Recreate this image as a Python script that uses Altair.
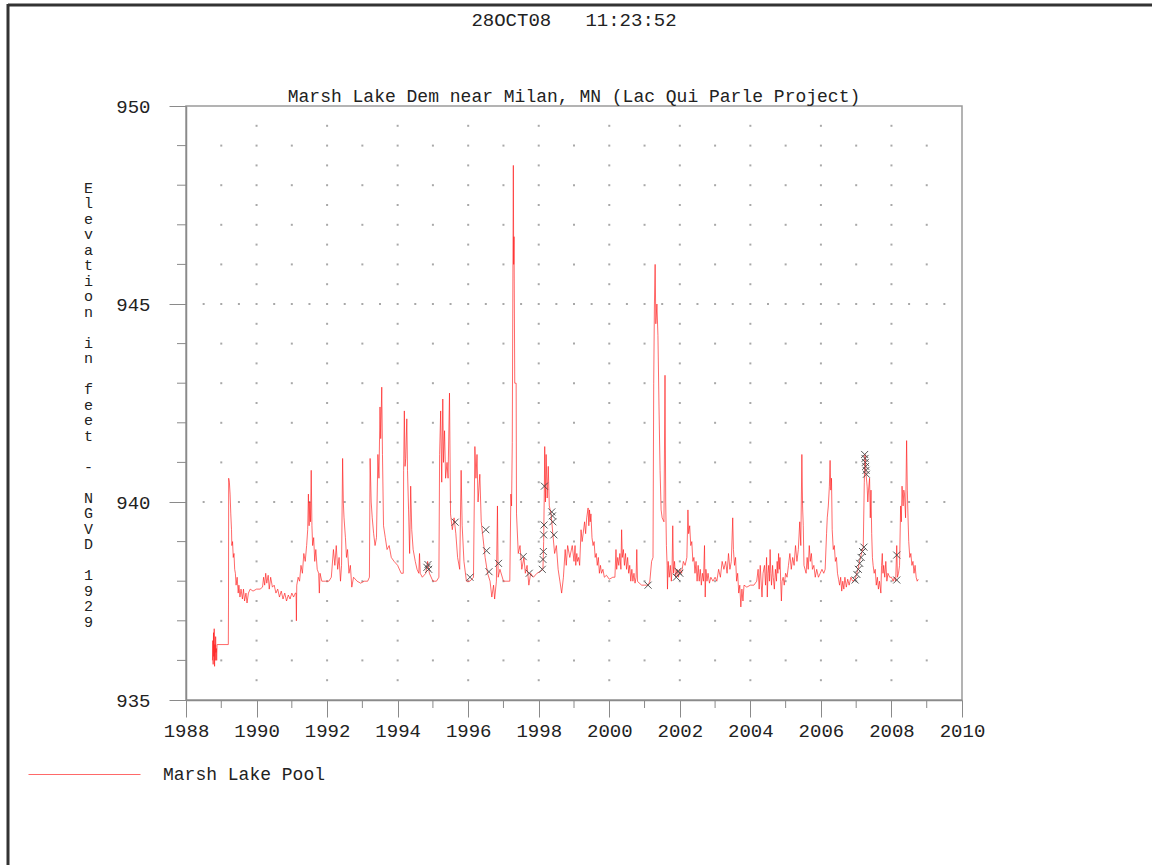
import altair as alt
import pandas as pd

# ---- pool elevation (decimal year, feet) ----
yr_1988_1993 = [
    1988.75, 1988.76, 1988.77, 1988.78, 1988.79, 1988.80, 1988.81, 1988.82, 1988.83, 1988.84,
    1988.85, 1988.86, 1988.87, 1988.88, 1988.90, 1989.20, 1989.205, 1989.21, 1989.23, 1989.25,
    1989.27, 1989.29, 1989.30, 1989.32, 1989.34, 1989.36, 1989.38, 1989.40, 1989.42, 1989.45,
    1989.48, 1989.50, 1989.53, 1989.56, 1989.60, 1989.63, 1989.66, 1989.70, 1989.73, 1989.77,
    1989.82, 1989.90, 1990.00, 1990.10, 1990.17, 1990.20, 1990.23, 1990.26, 1990.29, 1990.33,
    1990.36, 1990.40, 1990.45, 1990.50, 1990.55, 1990.60, 1990.65, 1990.70, 1990.75, 1990.80,
    1990.85, 1990.90, 1990.95, 1991.00, 1991.05, 1991.10, 1991.12, 1991.13, 1991.14, 1991.18,
    1991.22, 1991.26, 1991.30, 1991.34, 1991.38, 1991.42, 1991.45, 1991.47, 1991.49, 1991.51,
    1991.53, 1991.55, 1991.57, 1991.59, 1991.62, 1991.65, 1991.68, 1991.72, 1991.76, 1991.78,
    1991.80, 1991.85, 1991.95, 1992.05, 1992.12, 1992.18, 1992.22, 1992.26, 1992.30, 1992.34,
    1992.38, 1992.41, 1992.44, 1992.46, 1992.48, 1992.52, 1992.55, 1992.58, 1992.62, 1992.66,
    1992.70, 1992.75, 1992.85, 1992.95, 1993.05, 1993.15, 1993.20, 1993.22, 1993.25, 1993.28,
    1993.32, 1993.36, 1993.40, 1993.44, 1993.47, 1993.50, 1993.52, 1993.55, 1993.57, 1993.60,
]
ft_1988_1993 = [
    936.0, 936.5, 935.9, 936.7, 936.1, 936.8, 935.85, 936.4, 936.0, 936.6,
    936.2, 936.3, 936.0, 936.4, 936.4, 936.4, 937.4, 940.6, 940.5, 940.2,
    939.7, 939.3, 938.9, 939.0, 938.6, 938.7, 938.3, 938.2, 937.9, 938.1,
    937.7, 937.9, 937.6, 937.8, 937.55, 937.8, 937.5, 937.7, 937.45, 937.7,
    937.8, 937.75, 937.8, 937.8, 937.85, 938.1, 937.9, 938.2, 937.95, 938.15,
    937.8, 938.1, 937.85, 937.9, 937.7, 937.8, 937.6, 937.75, 937.55, 937.7,
    937.5, 937.65, 937.55, 937.7, 937.6, 937.7, 937.7, 937.0, 937.9, 938.1,
    938.0, 938.4, 938.2, 938.7, 938.5, 938.9, 939.3, 940.2, 939.4, 940.0,
    939.5, 940.8, 939.4, 938.9, 939.1, 938.5, 938.8, 938.3, 938.2, 937.7,
    938.2, 938.0, 938.0, 938.0, 938.1, 938.8, 938.4, 938.9, 938.3, 938.6,
    938.0, 938.4, 941.1, 940.0, 939.6, 939.1, 938.6, 938.8, 938.2, 938.4,
    937.85, 938.1, 938.0, 937.95, 938.0, 938.0, 938.1, 941.1, 940.0, 939.6,
    939.2, 938.9, 939.1, 941.2, 940.6, 942.4, 941.6, 942.9, 941.2, 939.4,
]
yr_1993_1998 = [
    1993.65, 1993.70, 1993.76, 1993.82, 1993.90, 1994.00, 1994.10, 1994.16, 1994.17, 1994.19,
    1994.21, 1994.23, 1994.26, 1994.28, 1994.31, 1994.34, 1994.37, 1994.40, 1994.44, 1994.50,
    1994.55, 1994.60, 1994.62, 1994.64, 1994.70, 1994.80, 1994.85, 1994.90, 1995.00, 1995.10,
    1995.17, 1995.19, 1995.22, 1995.25, 1995.28, 1995.30, 1995.33, 1995.36, 1995.40, 1995.43,
    1995.47, 1995.50, 1995.55, 1995.60, 1995.65, 1995.70, 1995.76, 1995.80, 1995.83, 1995.88,
    1995.95, 1996.05, 1996.15, 1996.19, 1996.22, 1996.25, 1996.28, 1996.33, 1996.37, 1996.42,
    1996.48, 1996.55, 1996.62, 1996.67, 1996.72, 1996.75, 1996.80, 1996.83, 1996.85, 1996.90,
    1997.00, 1997.10, 1997.18, 1997.21, 1997.23, 1997.25, 1997.28, 1997.29, 1997.30, 1997.32,
    1997.36, 1997.37, 1997.42, 1997.47, 1997.52, 1997.58, 1997.62, 1997.67, 1997.72, 1997.77,
    1997.85, 1997.95, 1998.05, 1998.12, 1998.14, 1998.16, 1998.17, 1998.19, 1998.21, 1998.24,
    1998.27, 1998.30, 1998.35, 1998.40, 1998.45, 1998.50, 1998.55, 1998.60, 1998.65, 1998.70,
    1998.75, 1998.78, 1998.82, 1998.88,
]
ft_1993_1998 = [
    939.1, 938.8, 938.9, 938.6, 938.5, 938.4, 938.2, 938.2, 940.8, 942.3,
    940.9, 941.1, 942.1, 940.8, 939.8, 938.7, 940.4, 939.3, 938.8, 938.5,
    938.3, 938.2, 938.7, 938.2, 938.1, 938.2, 938.5, 938.2, 938.0, 938.0,
    938.1, 941.2, 942.3, 940.5, 942.6, 941.0, 941.8, 940.6, 941.0, 940.6,
    942.75, 939.7, 939.3, 939.6, 939.2, 938.6, 938.3, 940.8, 939.4, 938.5,
    938.0, 938.0, 938.1, 941.4, 940.6, 941.2, 940.0, 940.7, 939.5, 939.1,
    938.6, 938.2, 938.0, 937.6, 937.9, 937.55, 938.0, 939.9, 938.1, 938.3,
    938.0, 938.0, 938.0, 940.2, 939.9, 941.5, 948.5, 946.0, 946.7, 943.0,
    943.0, 939.7, 938.7, 938.9, 938.3, 938.6, 938.2, 938.4, 937.9, 938.2,
    938.1, 938.2, 938.25, 938.3, 939.0, 940.4, 941.4, 940.0, 941.2, 940.1,
    940.9, 939.9, 939.7, 939.2, 938.7, 938.9, 938.3, 938.0, 937.7, 938.1,
    938.8, 938.4, 938.9, 938.6,
]
yr_1999_2008 = [
    1998.95, 1999.00, 1999.03, 1999.05, 1999.08, 1999.10, 1999.13, 1999.16, 1999.20, 1999.23,
    1999.26, 1999.30, 1999.33, 1999.36, 1999.40, 1999.42, 1999.44, 1999.46, 1999.48, 1999.51,
    1999.54, 1999.57, 1999.60, 1999.63, 1999.66, 1999.69, 1999.72, 1999.75, 1999.78, 1999.82,
    1999.86, 1999.92, 2000.00, 2000.10, 2000.16, 2000.19, 2000.21, 2000.24, 2000.27, 2000.30,
    2000.33, 2000.35, 2000.37, 2000.40, 2000.43, 2000.46, 2000.49, 2000.52, 2000.55, 2000.58,
    2000.61, 2000.64, 2000.67, 2000.70, 2000.73, 2000.76, 2000.78, 2000.80, 2000.85, 2000.92,
    2001.00, 2001.10, 2001.15, 2001.20, 2001.24, 2001.26, 2001.28, 2001.30, 2001.32, 2001.35,
    2001.38, 2001.41, 2001.44, 2001.47, 2001.50, 2001.55, 2001.58, 2001.60, 2001.62, 2001.64,
    2001.65, 2001.67, 2001.70, 2001.73, 2001.76, 2001.78, 2001.80, 2001.82, 2001.85, 2001.88,
    2001.92, 2001.96, 2002.00, 2002.05, 2002.10, 2002.15, 2002.20, 2002.23, 2002.25, 2002.28,
    2002.31, 2002.34, 2002.37, 2002.40, 2002.43, 2002.46, 2002.49, 2002.52, 2002.55, 2002.58,
    2002.61, 2002.64, 2002.67, 2002.70, 2002.72, 2002.74, 2002.77, 2002.80, 2002.84, 2002.88,
    2002.94, 2003.00, 2003.05, 2003.10, 2003.15, 2003.20, 2003.25, 2003.30, 2003.34, 2003.38,
    2003.42, 2003.46, 2003.50, 2003.52, 2003.55, 2003.58, 2003.61, 2003.64, 2003.67, 2003.70,
    2003.73, 2003.76, 2003.79, 2003.82, 2003.90, 2004.00, 2004.10, 2004.18, 2004.22, 2004.25,
    2004.28, 2004.31, 2004.33, 2004.36, 2004.40, 2004.43, 2004.46, 2004.48, 2004.50, 2004.52,
    2004.54, 2004.56, 2004.58, 2004.60, 2004.63, 2004.65, 2004.68, 2004.71, 2004.74, 2004.76,
    2004.78, 2004.80, 2004.82, 2004.84, 2004.86, 2004.88, 2004.90, 2004.93, 2004.96, 2005.00,
    2005.04, 2005.08, 2005.12, 2005.16, 2005.20, 2005.24, 2005.28, 2005.32, 2005.36, 2005.40,
    2005.43, 2005.46, 2005.48, 2005.50, 2005.52, 2005.55, 2005.58, 2005.61, 2005.64, 2005.67,
    2005.70, 2005.73, 2005.76, 2005.80, 2005.84, 2005.88, 2005.93, 2005.98, 2006.03, 2006.08,
    2006.12, 2006.16, 2006.18, 2006.21, 2006.24, 2006.26, 2006.28, 2006.30, 2006.32, 2006.35,
    2006.38, 2006.41, 2006.44, 2006.47, 2006.50, 2006.53, 2006.56, 2006.59, 2006.62, 2006.65,
    2006.68, 2006.72, 2006.76, 2006.80, 2006.85, 2006.90, 2006.97, 2007.05, 2007.12, 2007.20,
    2007.23, 2007.25, 2007.28, 2007.31, 2007.33, 2007.35, 2007.38, 2007.40, 2007.42, 2007.44,
    2007.46, 2007.48, 2007.51, 2007.54, 2007.57, 2007.60, 2007.63, 2007.66, 2007.70, 2007.72,
    2007.74, 2007.76, 2007.78, 2007.81, 2007.84, 2007.87, 2007.90, 2007.95, 2008.00, 2008.05,
    2008.08, 2008.12, 2008.15, 2008.17, 2008.20, 2008.23, 2008.26, 2008.28, 2008.30, 2008.33,
    2008.35, 2008.37, 2008.40, 2008.43, 2008.45, 2008.47, 2008.49, 2008.52, 2008.55, 2008.58,
    2008.61, 2008.64, 2008.67, 2008.70, 2008.73, 2008.76,
]
ft_1999_2008 = [
    938.9, 938.5, 938.9, 938.4, 938.7, 938.5, 938.6, 938.4, 939.3, 939.0,
    939.2, 939.5, 939.2, 939.6, 939.85, 939.4, 939.8, 939.5, 939.7, 939.1,
    938.9, 939.0, 938.6, 938.7, 938.4, 938.6, 938.2, 938.4, 938.2, 938.3,
    938.1, 938.15, 938.05, 938.1, 938.1, 938.8, 938.3, 938.6, 938.4, 938.7,
    938.3, 939.3, 938.6, 938.8, 938.4, 938.7, 938.3, 938.6, 938.2, 938.4,
    938.0, 938.3, 938.0, 938.2, 937.95, 938.1, 938.8, 938.0, 937.95, 937.9,
    937.9, 937.9, 938.0, 938.5, 938.6, 943.0, 945.0, 946.0, 944.5, 945.0,
    944.2, 942.4, 940.8, 939.8, 939.6, 939.5, 943.2, 940.0, 938.9, 938.4,
    937.8, 938.5, 938.1, 938.4, 938.0, 938.3, 939.4, 938.2, 938.5, 938.1,
    938.3, 938.1, 938.3, 938.2, 938.5, 938.4, 938.6, 939.8, 939.2, 939.4,
    938.9, 939.0, 938.5, 938.6, 938.2, 938.5, 938.0, 938.4, 938.0, 938.3,
    937.9, 938.2, 938.0, 938.9, 937.6, 938.3, 938.0, 938.2, 937.95, 938.1,
    938.0, 938.1, 938.0, 938.3, 938.1, 938.5, 938.3, 938.5, 938.2, 938.7,
    938.3, 938.5, 939.6, 938.8, 938.4, 938.6, 938.0, 938.2, 937.7, 937.9,
    937.35, 937.8, 937.5, 937.9, 937.85, 937.9, 937.9, 938.0, 938.3, 937.8,
    938.4, 937.9, 937.6, 938.2, 938.4, 937.9, 938.6, 937.6, 938.2, 938.4,
    938.0, 938.8, 938.2, 937.9, 938.4, 938.1, 937.8, 938.3, 938.0, 938.5,
    938.2, 938.7, 938.3, 938.6, 938.0, 937.5, 938.0, 938.1, 937.9, 938.2,
    938.1, 938.4, 938.7, 938.3, 938.6, 938.4, 938.9, 938.5, 938.8, 939.5,
    938.9, 941.2, 939.9, 939.4, 938.4, 938.3, 938.2, 938.6, 938.3, 938.9,
    938.5, 938.7, 938.3, 938.4, 938.1, 938.3, 938.1, 938.2, 938.3, 938.2,
    938.3, 939.2, 939.6, 939.9, 940.4, 941.05, 940.3, 940.6, 939.3, 938.8,
    938.9, 938.5, 938.6, 938.2, 938.05, 937.9, 938.1, 937.75, 938.0, 937.8,
    938.1, 937.85, 938.05, 937.9, 938.1, 938.0, 938.05, 938.3, 938.6, 938.85,
    940.5, 941.2, 940.7, 940.4, 940.0, 940.3, 940.6, 939.6, 940.3, 939.2,
    938.6, 938.4, 938.2, 938.3, 937.9, 938.1, 937.8, 938.0, 937.7, 938.4,
    938.7, 938.2, 938.4, 938.1, 938.5, 938.0, 938.2, 938.1, 938.1, 938.0,
    938.1, 938.0, 938.9, 938.1, 938.2, 938.4, 939.9, 939.5, 940.4, 939.9,
    940.3, 940.2, 939.6, 941.55, 940.3, 939.6, 939.0, 938.6, 938.7, 938.4,
    938.5, 938.2, 938.4, 938.1, 938.0, 938.05,
]

# observed readings drawn as x markers
obs_year = [
    1994.83, 1994.86, 1994.88, 1995.63, 1996.05, 1996.50, 1996.52, 1996.59, 1996.86, 1997.56,
    1997.73, 1998.10, 1998.12, 1998.13, 1998.14, 1998.15, 1998.16, 1998.37, 1998.39, 1998.40,
    1998.43, 2001.10, 2001.90, 2001.95, 2002.00, 2006.97, 2007.02, 2007.06, 2007.10, 2007.14,
    2007.18, 2007.22, 2007.24, 2007.25, 2007.26, 2007.27, 2007.28, 2007.29, 2008.15, 2008.15,
]
obs_ft = [
    938.35, 938.42, 938.30, 939.49, 938.10, 939.30, 938.77, 938.24, 938.45, 938.62,
    938.20, 938.30, 938.55, 938.75, 939.17, 939.42, 940.40, 939.75, 939.65, 939.50,
    939.17, 937.90, 938.10, 938.25, 938.20, 938.03, 938.17, 938.30, 938.45, 938.60,
    938.75, 938.86, 941.20, 941.10, 941.00, 940.90, 940.80, 940.70, 938.66, 938.03,
]

series_name = "Marsh Lake Pool"
title_text = "28OCT08\u00a0\u00a0\u00a011:23:52"
subtitle_text = "Marsh Lake Dem near Milan, MN (Lac Qui Parle Project)"
ytitle_text = "Elevation in feet - NGVD 1929"

year_major = list(range(1988, 2011, 2))
year_minor = list(range(1988, 2011))
ft_major = [935, 940, 945, 950]
ft_minor = list(range(935, 951))

# ---- tables ----
all_year = yr_1988_1993 + yr_1993_1998 + yr_1999_2008
all_ft = ft_1988_1993 + ft_1993_1998 + ft_1999_2008
line_df = pd.DataFrame({"year": all_year, "ft": all_ft, "series": series_name,
                        "i": list(range(len(all_year)))})
obs_df = pd.DataFrame({"year": obs_year, "ft": obs_ft})
xtick_df = pd.DataFrame({"year": [y for y in year_minor if y not in year_major]})
ytick_df = pd.DataFrame({"ft": [f for f in ft_minor if f not in ft_major]})

grid_rows = []
inner_years = [y for y in year_minor if 1988 < y < 2010]
for yr in inner_years:
    for f in ft_minor:
        if 935 < f < 950:
            grid_rows.append((yr, f))
for yr in year_major:
    if 1988 < yr < 2010:
        for f in ft_minor[:-1]:
            grid_rows.append((yr, f + 0.5))
for f in ft_major:
    if 935 < f < 950:
        for yr in year_minor[:-1]:
            grid_rows.append((yr + 0.5, f))
grid_df = pd.DataFrame(grid_rows, columns=["year", "ft"])

mono = "Liberation Mono"
ink = "#222222"
axis_gray = "#8a8a8a"
W, H = 776, 594

xs = alt.Scale(domain=[1988, 2010], nice=False, zero=False)
ys = alt.Scale(domain=[935, 950], nice=False, zero=False)

# one character per line; word gaps become an invisible (zero-width) line
ytitle_lines = [c if c != " " else "\u200b" for c in ytitle_text]

x_axis = alt.Axis(orient="bottom", values=year_major, format="d", tickSize=17,
                  labelPadding=4, labelFont=mono, labelFontSize=19, labelColor=ink,
                  domainColor=axis_gray, domainWidth=1.5, tickColor=axis_gray,
                  grid=False, title=None, labelFlush=False)
y_axis = alt.Axis(orient="left", values=ft_major, format="d", tickSize=17,
                  labelPadding=19, labelFont=mono, labelFontSize=19, labelColor=ink,
                  domainColor=axis_gray, domainWidth=1.5, tickColor=axis_gray,
                  grid=False, title=ytitle_lines, titleAngle=0, titleAlign="center",
                  titleBaseline="top", titleX=-98, titleY=74, titleLineHeight=15.5,
                  titleFont=mono, titleFontSize=15, titleFontWeight="normal",
                  titleColor=ink, labelFlush=False)

grid = alt.Chart(grid_df).mark_square(size=4, color="#a8a8a8", opacity=1).encode(
    x=alt.X("year:Q", scale=xs, axis=x_axis),
    y=alt.Y("ft:Q", scale=ys, axis=y_axis),
)

xminor = alt.Chart(xtick_df).mark_rule(color=axis_gray, strokeWidth=1).encode(
    x=alt.X("year:Q", scale=xs, axis=x_axis),
    y=alt.value(H), y2=alt.value(H + 8),
)
yminor = alt.Chart(ytick_df).mark_rule(color=axis_gray, strokeWidth=1).encode(
    y=alt.Y("ft:Q", scale=ys, axis=y_axis),
    x=alt.value(-9), x2=alt.value(0),
)

line = alt.Chart(line_df).mark_line(strokeWidth=1, opacity=0.65, interpolate="linear").encode(
    x=alt.X("year:Q", scale=xs, axis=x_axis),
    y=alt.Y("ft:Q", scale=ys, axis=y_axis),
    color=alt.Color("series:N", scale=alt.Scale(range=["#ff1a1a"]),
                    legend=alt.Legend(title=None, orient="none", legendX=-158, legendY=612,
                                      symbolType="stroke", symbolSize=12544,
                                      symbolStrokeWidth=1, symbolOpacity=0.65,
                                      labelFont=mono, labelFontSize=18, labelColor=ink,
                                      labelOffset=22, labelLimit=400, padding=0)),
    order="i:Q",
)

marks = alt.Chart(obs_df).mark_point(shape="M-1,-1L1,1M1,-1L-1,1", size=49, filled=False,
                                     stroke="#444444", strokeWidth=1, opacity=0.9).encode(
    x=alt.X("year:Q", scale=xs, axis=x_axis),
    y=alt.Y("ft:Q", scale=ys, axis=y_axis),
)

frame_df = pd.DataFrame({"k": [0]})
frame_top = alt.Chart(frame_df).mark_rule(color="#333333", strokeWidth=3).encode(
    x=alt.value(-178), x2=alt.value(970), y=alt.value(-101))
frame_left = alt.Chart(frame_df).mark_rule(color="#333333", strokeWidth=3).encode(
    x=alt.value(-178), y=alt.value(-102), y2=alt.value(770))

# the outer frame widens the group's bounds upward, so the title offset is negative
chart = alt.layer(grid, xminor, yminor, line, marks, frame_top, frame_left).properties(
    width=W, height=H,
    title=alt.TitleParams(text=title_text, subtitle=subtitle_text, font=mono, fontSize=19,
                          fontWeight="normal", color=ink, subtitleFont=mono,
                          subtitleFontSize=18, subtitleColor=ink, anchor="middle",
                          offset=-103, subtitlePadding=58),
    autosize=alt.AutoSizeParams(type="none"),
    padding={"left": 186, "top": 106, "right": 190, "bottom": 165},
    background="white",
).configure_view(stroke="#9a9a9a", strokeWidth=1.5)

chart.save("out.html", embed_options={"renderer": "svg", "actions": False})
